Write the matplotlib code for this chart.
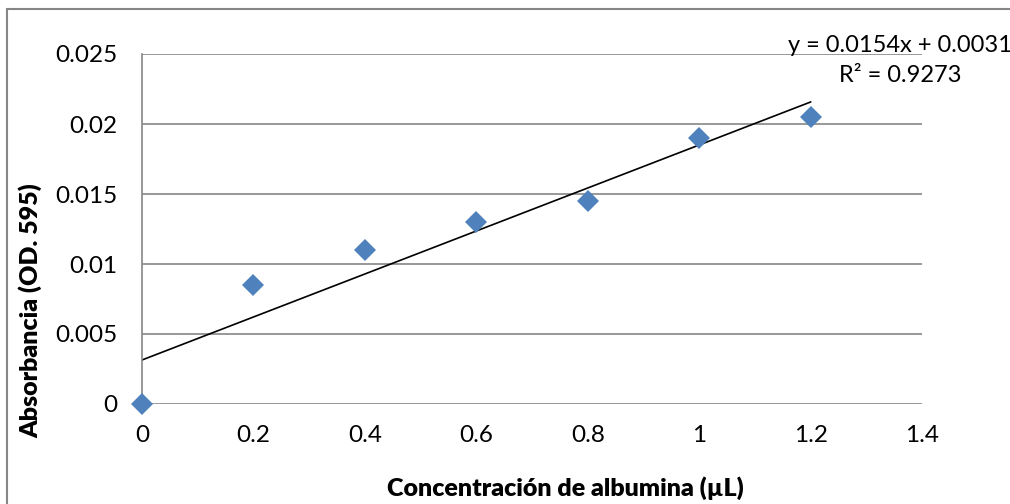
import matplotlib.pyplot as plt
import matplotlib.patches as patches
import numpy as np

plt.rcParams['font.family'] = ['Lato', 'DejaVu Sans']

# albumin concentration vs absorbance
conc = [0, 0.2, 0.4, 0.6, 0.8, 1.0, 1.2]
absorb = [0, 0.0085, 0.011, 0.013, 0.0145, 0.019, 0.0205]
xticks = [0, 0.2, 0.4, 0.6, 0.8, 1, 1.2, 1.4]
yticks = [0, 0.005, 0.01, 0.015, 0.02, 0.025]
xtick_labels = ['0', '0.2', '0.4', '0.6', '0.8', '1', '1.2', '1.4']
ytick_labels = ['0', '0.005', '0.01', '0.015', '0.02', '0.025']

fig = plt.figure(figsize=(10.1, 5.04), dpi=100)
ax = fig.add_axes([142 / 1010, 1 - 404 / 504, 780 / 1010, 350 / 504])

# outer chart border (excel style)
fig.patches.append(patches.Rectangle((7 / 1010, -0.1), 1.2, 1 - 9 / 504 + 0.1,
                                     transform=fig.transFigure, fill=False,
                                     edgecolor='#868686', linewidth=1.5))

grid_col = '#868686'
for v in yticks:
    ax.axhline(v, color=grid_col, lw=1.2, zorder=1)

# linear trendline
m, b = np.polyfit(conc, absorb, 1)
fit = np.polyval([m, b], conc)
r2 = 1 - np.sum((np.array(absorb) - fit) ** 2) / np.sum((np.array(absorb) - np.mean(absorb)) ** 2)
xs = np.array([conc[0], conc[-1]])
ax.plot(xs, m * xs + b, color='black', lw=1.2, zorder=2)

ax.plot(conc, absorb, 'D', color='#4F81BD', markersize=11, markeredgewidth=0,
        zorder=3, clip_on=False)

ax.set_xlim(0, 1.4)
ax.set_ylim(0, 0.025)
ax.set_xticks(xticks)
ax.set_xticklabels(xtick_labels)
ax.set_yticks(yticks)
ax.set_yticklabels(ytick_labels)
ax.tick_params(length=0, labelsize=17.5)
ax.tick_params(axis='x', pad=15)
ax.tick_params(axis='y', pad=18)

for s in ['top', 'right', 'bottom']:
    ax.spines[s].set_visible(False)
ax.spines['left'].set_color(grid_col)
ax.spines['left'].set_linewidth(1.2)

fig.text(565 / 1010, 1 - 488 / 504, 'Concentración de albumina (µL)',
         ha='center', va='center', fontsize=18, fontweight='heavy')
fig.text(30 / 1010, 1 - 311 / 504, 'Absorbancia (OD. 595)', rotation=90,
         ha='center', va='center', fontsize=18, fontweight='heavy')

fig.text(900 / 1010, 1 - 45 / 504, 'y = %.4fx + %.4f' % (m, b),
         ha='center', va='center', fontsize=17)
fig.text(900 / 1010, 1 - 76 / 504, 'R² = %.4f' % r2,
         ha='center', va='center', fontsize=17)

fig.savefig('out.png', dpi=100)
